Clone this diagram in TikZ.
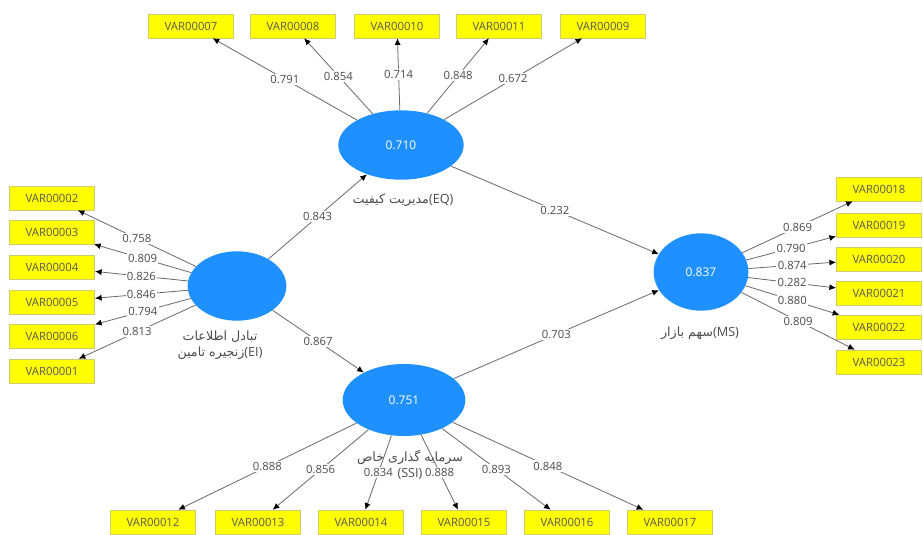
\documentclass[tikz,border=0pt]{standalone}
\usepackage{fontspec}
\setmainfont{Open Sans}
\newfontfamily\arabicfont[Script=Arabic]{DejaVu Sans}
\TeXXeTstate=1
\usepackage{tikz}
\usetikzlibrary{arrows.meta, shapes.geometric}
\definecolor{plsBlue}{RGB}{30,144,255}
\definecolor{plsYellow}{RGB}{255,255,0}
\definecolor{plsEdge}{RGB}{205,205,110}
\definecolor{plsLine}{RGB}{105,105,105}

\begin{document}
\begin{tikzpicture}[x=0.75pt, y=-0.75pt,
	latent/.style={ellipse, fill=plsBlue, text=white, inner sep=0pt, font=\fontsize{9}{10}\selectfont},
	ind/.style={rectangle, fill=plsYellow, draw=plsEdge, minimum width=64pt, minimum height=18pt, inner sep=0pt, text=black!65, font=\fontsize{8.5}{10}\selectfont},
	load/.style={plsLine, line width=0.6pt, -{Latex[length=5pt, width=4.5pt, black]}},
	lbl/.style={fill=white, text=black!70, inner sep=1pt, font=\fontsize{8.5}{10}\selectfont},
	cname/.style={text=black!70, align=center, font=\fontsize{9.5}{12}\selectfont}]
	% \draw[gray!20] (0,0) grid[step=50] (923,534);
	\fill[white] (0,0) rectangle (923,534);

	\node[latent, minimum width=94pt, minimum height=52pt] (EQ) at (401,145) {0.710};
	\node[latent, minimum width=74pt, minimum height=52pt] (EI) at (237,286) {};
	\node[latent, minimum width=71pt, minimum height=58pt] (MS) at (701,272) {0.837};
	\node[latent, minimum width=92pt, minimum height=54pt] (SSI) at (404,400) {0.751};

	\draw[load] (EI) -- node[lbl] {0.843} (EQ);
	\draw[load] (EI) -- node[lbl] {0.867} (SSI);
	\draw[load] (EQ) -- node[lbl] {0.232} (MS);
	\draw[load] (SSI) -- node[lbl] {0.703} (MS);

	\foreach \n/\x/\v in {VAR00007/191/0.791, VAR00008/293/0.854, VAR00010/397/0.714, VAR00011/499/0.848, VAR00009/603/0.672} {
		\node[ind] (\n) at (\x,26) {\n};
		\draw[load] (EQ) -- node[lbl] {\v} (\n);
	}
	\foreach \n/\y/\v in {VAR00002/198/0.758, VAR00003/232/0.809, VAR00004/267/0.826, VAR00005/302/0.846, VAR00006/336/0.794, VAR00001/371/0.813} {
		\node[ind] (\n) at (52,\y) {\n};
		\draw[load] (EI) -- node[lbl] {\v} (\n);
	}
	\foreach \n/\y/\v in {VAR00018/189/0.869, VAR00019/225/0.790, VAR00020/259/0.874, VAR00021/293/0.282, VAR00022/327/0.880, VAR00023/362/0.809} {
		\node[ind] (\n) at (879,\y) {\n};
		\draw[load] (MS) -- node[lbl] {\v} (\n);
	}
	\foreach \n/\x/\v in {VAR00012/153/0.888, VAR00013/258/0.856, VAR00014/361/0.834, VAR00015/464/0.888, VAR00016/567/0.893, VAR00017/670/0.848} {
		\node[ind] (\n) at (\x,522) {\n};
		\draw[load] (SSI) -- node[lbl] {\v} (\n);
	}

	% construct names
	\node[cname] (EQname) at (403,200) {{\arabicfont\beginR مدیریت کیفیت\endR}(EQ)};
	\node[cname] (EIname) at (220,345) {{\arabicfont\beginR تبادل اطلاعات\endR}\\{\arabicfont\beginR زنجیره تامین\endR}(EI)};
	\node[cname] (MSname) at (700,333) {{\arabicfont\beginR سهم بازار\endR}(MS)};
	\node[cname] (SSIname) at (410,465) {{\arabicfont\beginR سرمایه گذاری خاص\endR}\\(SSI)};
\end{tikzpicture}
\end{document}
